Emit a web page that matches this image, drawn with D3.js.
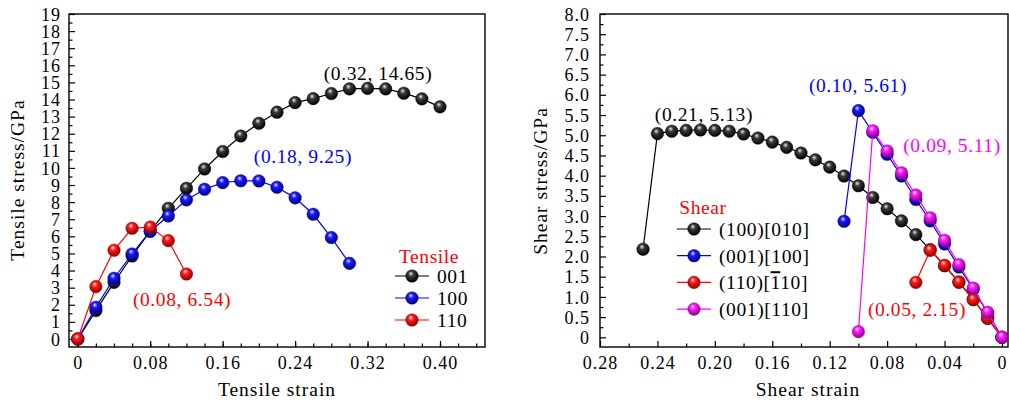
<!DOCTYPE html>
<html><head><meta charset="utf-8">
<script src="https://cdn.jsdelivr.net/npm/d3@7"></script>
<style>
html,body{margin:0;padding:0;background:#fff;}
svg{display:block;}
text{font-family:"Liberation Serif","Times New Roman",serif;}
</style></head>
<body>
<svg id="chart" width="1009" height="400"></svg>
<script>
// ---------- Data ----------
const tensileStrain001 = [0,0.02,0.04,0.06,0.08,0.10,0.12,0.14,0.16,0.18,0.20,0.22,0.24,0.26,0.28,0.30,0.32,0.34,0.36,0.38,0.40];
const tensile001 = [0,1.66,3.31,4.85,6.30,7.64,8.81,9.94,10.96,11.87,12.61,13.26,13.82,14.05,14.35,14.62,14.65,14.62,14.37,14.04,13.57];
const tensileStrain100 = [0,0.02,0.04,0.06,0.08,0.10,0.12,0.14,0.16,0.18,0.20,0.22,0.24,0.26,0.28,0.30];
const tensile100 = [0,1.85,3.55,4.97,6.30,7.19,8.13,8.75,9.14,9.25,9.24,8.87,8.25,7.29,5.93,4.42];
const tensileStrain110 = [0,0.02,0.04,0.06,0.08,0.10,0.12];
const tensile110 = [0,3.06,5.19,6.47,6.54,5.75,3.80];

const shearStrainA = [0.25,0.24,0.23,0.22,0.21,0.20,0.19,0.18,0.17,0.16,0.15,0.14,0.13,0.12,0.11,0.10,0.09,0.08,0.07,0.06,0.05,0.04,0.03,0.02,0.01,0];
const shear100_010 = [2.18,5.04,5.10,5.12,5.13,5.12,5.10,5.03,4.93,4.83,4.70,4.56,4.39,4.21,3.99,3.75,3.46,3.18,2.88,2.54,2.17,1.77,1.37,0.94,0.47,0];
const shearStrainB = [0.11,0.10,0.09,0.08,0.07,0.06,0.05,0.04,0.03,0.02,0.01,0];
const shear001_100 = [2.87,5.61,5.07,4.53,3.99,3.41,2.88,2.31,1.74,1.19,0.60,0];
const shearStrainC = [0.06,0.05,0.04,0.03,0.02,0.01,0];
const shear110_110 = [1.36,2.15,1.78,1.36,0.93,0.47,0];
const shearStrainD = [0.10,0.09,0.08,0.07,0.06,0.05,0.04,0.03,0.02,0.01,0];
const shear001_110 = [0.14,5.11,4.61,4.07,3.52,2.96,2.40,1.80,1.22,0.62,0];

const tensileXTicks = [0,0.08,0.16,0.24,0.32,0.40];
const tensileXTickLabels = ["0","0.08","0.16","0.24","0.32","0.40"];
const tensileYTicks = d3.range(0,20,1);
const shearXTicks = [0.28,0.24,0.20,0.16,0.12,0.08,0.04,0];
const shearXTickLabels = ["0.28","0.24","0.20","0.16","0.12","0.08","0.04","0"];
const shearYTicks = d3.range(0,8.01,0.5);
const shearYTickLabels = ["0","0.5","1.0","1.5","2.0","2.5","3.0","3.5","4.0","4.5","5.0","5.5","6.0","6.5","7.0","7.5","8.0"];

const tensileLegend = [["001"],["100"],["110"]];
// parts: [text, overline?]
const shearLegend = [
  [["(100)[010]",false]],
  [["(001)[100]",false]],
  [["(110)[",false],["1",true],["10]",false]],
  [["(001)[110]",false]]
];

const tensileNotes = [
  {t:"(0.32, 14.65)", x:0.3316, y:15.55, c:"k"},
  {t:"(0.18, 9.25)", x:0.2486, y:10.70, c:"b"},
  {t:"(0.08, 6.54)", x:0.1151, y:2.30, c:"r"}
];
const shearNotes = [
  {t:"(0.21, 5.13)", x:0.2076, y:5.52, c:"k"},
  {t:"(0.10, 5.61)", x:0.1003, y:6.23, c:"b"},
  {t:"(0.09, 5.11)", x:0.0348, y:4.75, c:"m"},
  {t:"(0.05, 2.15)", x:0.0592, y:0.70, c:"r"}
];

// ---------- Styles ----------
const colors = {k:"#000000", b:"#0000ff", r:"#ff0000", m:"#ff00ff"};
const grad = {
  k:["#e8e8e8","#3a3a3a","#000000"],
  b:["#e0e0ff","#1a1aff","#00007a"],
  r:["#ffe6e6","#ff1a1a","#8a0000"],
  m:["#ffe6ff","#ff1aff","#8a008a"]
};
const svg = d3.select("#chart");
const defs = svg.append("defs");
Object.keys(grad).forEach(k=>{
  const g = defs.append("radialGradient").attr("id","g"+k)
    .attr("cx","45%").attr("cy","40%").attr("r","60%").attr("fx","40%").attr("fy","30%");
  g.append("stop").attr("offset","0%").attr("stop-color",grad[k][0]);
  g.append("stop").attr("offset","35%").attr("stop-color",grad[k][1]);
  g.append("stop").attr("offset","100%").attr("stop-color",grad[k][2]);
});
const R = 6.3;
const FS = 19.5;   // annotation / title / legend size
const TFS = 18;    // tick label size

function drawPanel(opt){
  const g = svg.append("g");
  const x = d3.scaleLinear().domain(opt.xDomain).range(opt.xRange);
  const y = d3.scaleLinear().domain(opt.yDomain).range(opt.yRange);
  const [x0,x1] = opt.xRange, [y0,y1] = opt.yRange;
  const clipId = "clip"+opt.id;
  defs.append("clipPath").attr("id",clipId).append("rect")
    .attr("x",Math.min(x0,x1)).attr("y",y1).attr("width",Math.abs(x1-x0)).attr("height",y0-y1);

  // minor ticks
  const gxm = g.append("g").attr("transform",`translate(0,${y0})`)
    .call(d3.axisBottom(x).tickValues(opt.xMinor).tickSize(-3.5).tickFormat(""));
  const gym = g.append("g").attr("transform",`translate(${x0},0)`)
    .call(d3.axisLeft(y).tickValues(opt.yMinor).tickSize(-3.5).tickFormat(""));
  // major ticks
  const gx = g.append("g").attr("transform",`translate(0,${y0})`)
    .call(d3.axisBottom(x).tickValues(opt.xTicks).tickSize(-6).tickPadding(9)
      .tickFormat((d,i)=>opt.xLabels[i]));
  const gy = g.append("g").attr("transform",`translate(${x0},0)`)
    .call(d3.axisLeft(y).tickValues(opt.yTicks).tickSize(-6).tickPadding(opt.yPad)
      .tickFormat((d,i)=>opt.yLabels[i]));
  [gxm,gym,gx,gy].forEach(a=>{
    a.select(".domain").remove();
    a.selectAll(".tick line").attr("stroke","#000").attr("stroke-width",1.2);
    a.selectAll("text").attr("font-family","Liberation Serif").attr("font-size",TFS)
      .attr("fill","#000").attr("letter-spacing","1px");
  });
  gy.selectAll("text").attr("dy","0.34em");
  gx.selectAll("text").attr("dy","0.72em");

  // frame
  g.append("rect").attr("x",Math.min(x0,x1)).attr("y",y1)
    .attr("width",Math.abs(x1-x0)).attr("height",y0-y1)
    .attr("fill","none").attr("stroke","#000").attr("stroke-width",1.4);

  // series
  const plot = g.append("g").attr("clip-path",`url(#${clipId})`);
  opt.series.forEach(s=>{
    const pts = s.xs.map((d,i)=>[d,s.ys[i]]);
    plot.append("path").datum(pts)
      .attr("d",d3.line().x(d=>x(d[0])).y(d=>y(d[1])))
      .attr("fill","none").attr("stroke",colors[s.c]).attr("stroke-width",1.2);
    plot.selectAll(null).data(pts).enter().append("circle")
      .attr("cx",d=>x(d[0])).attr("cy",d=>y(d[1])).attr("r",R)
      .attr("fill",`url(#g${s.c})`).attr("stroke",d3.color(colors[s.c]).darker(1.5)).attr("stroke-width",0.4);
  });

  // annotations
  opt.notes.forEach(n=>{
    g.append("text").attr("x",x(n.x)).attr("y",y(n.y)).attr("dy","0.35em")
      .attr("text-anchor","middle").attr("font-size",FS).attr("letter-spacing","0.6px")
      .attr("fill",colors[n.c]).text(n.t);
  });

  // axis titles
  g.append("text").attr("x",opt.xTitlePos[0]).attr("y",opt.xTitlePos[1]).attr("dy","0.35em")
    .attr("text-anchor","middle").attr("font-size",FS).attr("letter-spacing","1px").text(opt.xTitle);
  g.append("text").attr("transform",`translate(${opt.yTitlePos[0]},${opt.yTitlePos[1]}) rotate(-90)`)
    .attr("dy","0.35em").attr("text-anchor","middle").attr("font-size",FS).attr("letter-spacing","1px").text(opt.yTitle);

  // legend
  const L = opt.legend;
  g.append("text").attr("x",L.titleX).attr("y",L.titleY).attr("dy","0.35em")
    .attr("text-anchor","middle").attr("font-size",FS).attr("letter-spacing","0.6px").attr("fill","#ff0000").text(L.title);
  L.labels.forEach((lab,i)=>{
    const yy = L.y0 + i*L.dy;
    const c = opt.series[i].c;
    g.append("line").attr("x1",L.lx0).attr("x2",L.lx1).attr("y1",yy).attr("y2",yy)
      .attr("stroke",colors[c]).attr("stroke-width",1.2);
    g.append("circle").attr("cx",(L.lx0+L.lx1)/2).attr("cy",yy).attr("r",R)
      .attr("fill",`url(#g${c})`).attr("stroke",d3.color(colors[c]).darker(1.5)).attr("stroke-width",0.4);
    const t = g.append("text").attr("x",L.tx).attr("y",yy).attr("dy","0.35em")
      .attr("font-size",FS).attr("letter-spacing","0.6px");
    lab.forEach(p=>{
      const part = Array.isArray(p) ? p : [p,false];
      const ts = t.append("tspan").text(part[0]);
      if(part[1]) ts.attr("text-decoration","overline");
    });
  });
}

drawPanel({
  id:"L",
  xDomain:[-0.0097,0.4497], xRange:[69,485],
  yDomain:[-0.47,19], yRange:[347,14],
  xTicks:tensileXTicks, xLabels:tensileXTickLabels,
  xMinor:d3.range(0,0.45,0.02),
  yTicks:tensileYTicks, yLabels:tensileYTicks.map(String),
  yMinor:d3.range(0.5,19,1), yPad:8,
  series:[
    {xs:tensileStrain001, ys:tensile001, c:"k"},
    {xs:tensileStrain100, ys:tensile100, c:"b"},
    {xs:tensileStrain110, ys:tensile110, c:"r"}
  ],
  notes:tensileNotes,
  xTitle:"Tensile strain", xTitlePos:[277,389],
  yTitle:"Tensile stress/GPa", yTitlePos:[17,180],
  legend:{title:"Tensile", titleX:429, titleY:256, labels:tensileLegend,
    y0:276, dy:22, lx0:395, lx1:429, tx:437}
});

drawPanel({
  id:"R",
  xDomain:[0.28,-0.0042], xRange:[600,1008],
  yDomain:[-0.24,8.0], yRange:[347,14],
  xTicks:shearXTicks, xLabels:shearXTickLabels,
  xMinor:d3.range(0.02,0.28,0.04),
  yTicks:shearYTicks, yLabels:shearYTickLabels,
  yMinor:d3.range(0.25,8,0.5), yPad:10,
  series:[
    {xs:shearStrainA, ys:shear100_010, c:"k"},
    {xs:shearStrainB, ys:shear001_100, c:"b"},
    {xs:shearStrainC, ys:shear110_110, c:"r"},
    {xs:shearStrainD, ys:shear001_110, c:"m"}
  ],
  notes:shearNotes,
  xTitle:"Shear strain", xTitlePos:[808,389],
  yTitle:"Shear stress/GPa", yTitlePos:[540,181],
  legend:{title:"Shear", titleX:703, titleY:207, labels:shearLegend,
    y0:229, dy:26.7, lx0:677, lx1:711, tx:719}
});
</script>
</body></html>
